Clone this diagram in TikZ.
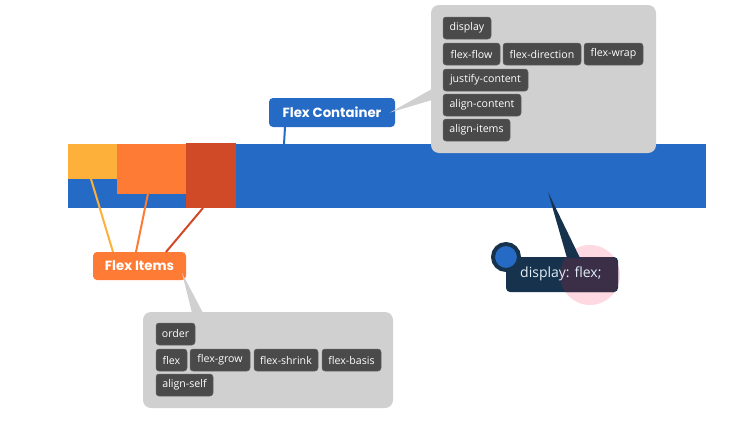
\documentclass[tikz,border=0pt]{standalone}
\usepackage{fontspec}
\setmainfont{Open Sans}
\newfontfamily\labelfont{Poppins}
\usetikzlibrary{calc}
\definecolor{flexblue}{HTML}{256AC5}
\definecolor{itemyellow}{HTML}{FDB03A}
\definecolor{itemorange}{HTML}{FD7B35}
\definecolor{itemred}{HTML}{D14A27}
\definecolor{panelgray}{HTML}{D0D0D0}
\definecolor{chipgray}{HTML}{4A4A4A}
\definecolor{navy}{HTML}{17324C}
\definecolor{softpink}{HTML}{FFD9E2}
\definecolor{darkpurple}{HTML}{3B2E47}
\definecolor{codetext}{HTML}{E2EEF8}
\begin{document}
\begin{tikzpicture}[x=1pt,y=-1pt,
  block/.style={anchor=north west,inner sep=0pt,outer sep=0pt},
  panel/.style={block,fill=panelgray,rounded corners=8pt},
  chip/.style={block,fill=chipgray,draw=chipgray!85!white,line width=0.5pt,text=white,rounded corners=3pt,
    minimum height=22pt,minimum width=#1,font=\fontsize{10.6}{12}\selectfont},
  tag/.style={block,text=white,rounded corners=4pt,font=\labelfont\bfseries\fontsize{13.3}{15}\selectfont},
  wire/.style={line width=2pt},
]
\useasboundingbox (0,0) rectangle (731,423);

% flex container bar and items
\node[block,fill=flexblue,minimum width=638pt,minimum height=64pt] (bar) at (68,144) {};
\node[block,fill=itemyellow,minimum width=49pt,minimum height=35pt] (yel) at (68,144) {};
\node[block,fill=itemorange,minimum width=69pt,minimum height=49.5pt] (org) at (117,144) {};
\node[block,fill=itemred,minimum width=50pt,minimum height=65pt] (red) at (186,143) {};

% panels
\node[panel,minimum width=225pt,minimum height=148pt] (cbox) at (431,5) {};
\node[panel,minimum width=250pt,minimum height=96pt] (ibox) at (143,312) {};

% labels
\node[tag,fill=flexblue,minimum width=126pt,minimum height=29pt] (fc) at (269,98) {Flex Container};
\node[tag,fill=itemorange,minimum width=93pt,minimum height=28pt] (fi) at (93,252) {Flex Items};

% connectors
\draw[wire,flexblue] ([xshift=16pt]fc.south west) -- ([xshift=216pt]bar.north west);
\draw[wire,itemyellow] ([xshift=23pt]yel.south west) -- ([xshift=20pt]fi.north west);
\draw[wire,itemorange] ([xshift=31pt]org.south west) -- ([xshift=43pt]fi.north west);
\draw[wire,itemred] ([xshift=17pt]red.south west) -- ([xshift=73pt]fi.north west);

% callout wedges
\fill[panelgray] ([xshift=-5pt]fc.east) -- ($(cbox.north west)+(1,84)$) -- ($(cbox.north west)+(1,95)$) -- cycle;
\fill[panelgray] ($(fi.south east)+(-4,-7)$) -- ($(ibox.north west)+(49,1)$) -- ($(ibox.north west)+(60,1)$) -- cycle;

% container chips
\node[chip=48pt] (c1) at (443,17) {display};
\node[chip=57pt] (c2) at (443,43) {flex-flow};
\node[chip=78pt] (c3) at (503,43) {flex-direction};
\node[chip=59pt] (c4) at (584,43) {flex-wrap};
\node[chip=85pt] (c5) at (443,69) {justify-content};
\node[chip=78pt] (c6) at (443,94) {align-content};
\node[chip=67pt] (c7) at (443,119) {align-items};

% item chips
\node[chip=39pt] (i1) at (156,323) {order};
\node[chip=31pt] (i2) at (156,349) {flex};
\node[chip=60pt] (i3) at (190,349) {flex-grow};
\node[chip=64pt] (i4) at (254,349) {flex-shrink};
\node[chip=59pt] (i5) at (322,349) {flex-basis};
\node[chip=57pt] (i6) at (156,374) {align-self};

% display: flex callout
\fill[softpink] (590,275) circle (30pt);
\node[block,fill=navy,rounded corners=4pt,minimum width=112pt,minimum height=35pt] (dbox) at (506,257) {};
\begin{scope}
  \clip[rounded corners=4pt] (dbox.north west) rectangle (dbox.south east);
  \fill[darkpurple] (590,275) circle (30pt);
\end{scope}
\fill[navy] ([xshift=480pt,yshift=-48pt]bar.north west) -- ($(dbox.north west)+(61,1)$) -- ($(dbox.north west)+(74,1)$) -- cycle;
\node[circle,fill=flexblue,draw=navy,line width=4pt,minimum size=26pt,inner sep=0pt] (dot) at (dbox.north west) {};
\node[text=codetext,font=\fontsize{14}{16}\selectfont,anchor=west,inner sep=0pt] (dtxt) at ([xshift=14pt,yshift=1pt]dbox.west) {display: flex;};
\end{tikzpicture}
\end{document}
